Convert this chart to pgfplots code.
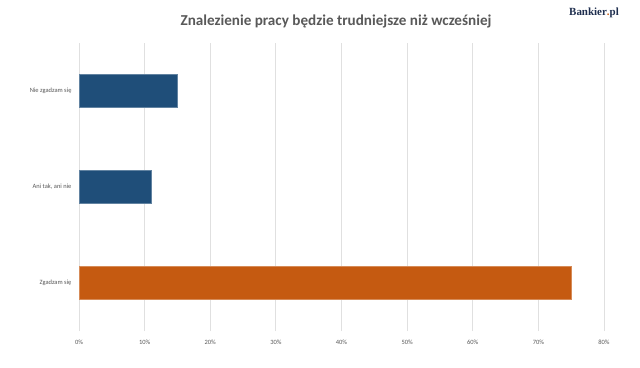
\documentclass[border=0pt]{standalone}
\usepackage{pgfplots}
\pgfplotsset{compat=1.18}
\usepackage{fontspec}
\setmainfont{Carlito}
\newfontfamily\logofont{Liberation Serif}
\definecolor{barblue}{HTML}{1F4E79}
\definecolor{barorange}{HTML}{C55A11}
\definecolor{gridgray}{HTML}{E0E0E0}
\definecolor{txtgray}{HTML}{595959}
\definecolor{logonavy}{HTML}{1F2F4F}
\begin{document}
\begin{tikzpicture}[x=1bp,y=1bp]
\path[use as bounding box, fill=white] (0,0) rectangle (640,367);
\begin{axis}[
  at={(79bp,36bp)}, anchor=south west,
  width=525bp, height=288bp, scale only axis,
  xbar, bar shift=0pt, bar width=33bp,
  xmin=0, xmax=80, ymin=-0.5, ymax=2.5,
  xtick={0,10,...,80},
  xticklabel={\pgfmathprintnumber{\tick}\%},
  ytick={0,1,2},
  yticklabels={Zgadzam się, {Ani tak, ani nie}, Nie zgadzam się},
  xmajorgrids, major grid style={gridgray, line width=0.8pt},
  axis line style={draw=none},
  major tick length=0pt,
  tick label style={font=\fontsize{6.5}{7}\selectfont, text=txtgray},
  xticklabel style={yshift=-6bp},
  yticklabel style={xshift=-4bp},
  /pgf/number format/assume math mode=true,
  clip=false,
]
\addplot[fill=barorange, draw=barorange!70!white] coordinates {(75,0)};
\addplot[fill=barblue, draw=barblue!70!white] coordinates {(11,1) (15,2)};
\end{axis}
\node[font=\bfseries\fontsize{15.2}{17}\selectfont, text=txtgray] at (336,346) {Znalezienie pracy będzie trudniejsze niż wcześniej};
\node[font=\logofont\bfseries\fontsize{11}{13}\selectfont, text=logonavy] at (594,354) {Bankier\textcolor{barorange}{.}pl};
\end{tikzpicture}
\end{document}
